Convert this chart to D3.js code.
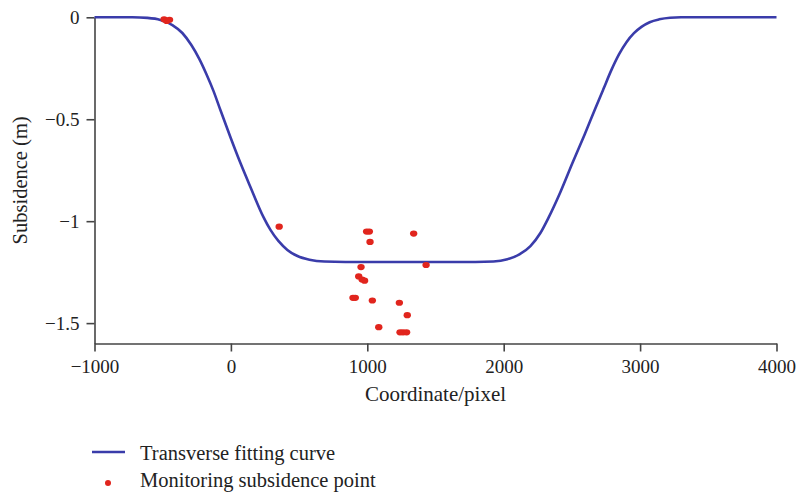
<!DOCTYPE html>
<html>
<head>
<meta charset="utf-8">
<script src="https://cdn.jsdelivr.net/npm/d3@7"></script>
<style>
  html, body { margin: 0; padding: 0; background: #fff; }
  svg { display: block; font-family: "Liberation Serif", "DejaVu Serif", serif; }
</style>
</head>
<body>
<svg id="chart" width="796" height="495"></svg>
<script>
// Fitted transverse subsidence profile (coordinate in pixels, subsidence in metres)
const curveX = [-1000, -722, -612, -517, -429, -356, -290, -231, -180, -128, -77, -4, 70, 143, 238, 290, 348, 414, 488, 576, 686, 839,
                1792, 1925, 2027, 2115, 2196, 2269, 2328, 2416, 2504, 2592, 2673, 2731, 2790, 2845, 2900, 2955, 3010, 3070, 3140, 3220, 3300, 4000];
const curveY = [0, 0, -0.003, -0.013, -0.038, -0.077, -0.136, -0.205, -0.278, -0.361, -0.455, -0.587, -0.715, -0.832, -0.979, -1.043, -1.097, -1.141, -1.171, -1.189, -1.198, -1.200,
                -1.200, -1.198, -1.187, -1.163, -1.122, -1.058, -0.984, -0.857, -0.715, -0.577, -0.445, -0.352, -0.258, -0.182, -0.122, -0.078, -0.047, -0.024, -0.010, -0.002, 0, 0];

// Measured subsidence at monitoring points
const pointX = [-490, -470, -450, 354, 995, 1015, 1020, 1340, 954, 1431, 937, 962, 980, 895, 912, 1037, 1235, 1293, 1084, 1240, 1262, 1288];
const pointY = [-0.010, -0.018, -0.012, -1.027, -1.051, -1.051, -1.102, -1.061, -1.225, -1.215, -1.271, -1.286, -1.292, -1.376, -1.376, -1.389, -1.400, -1.461, -1.520, -1.545, -1.545, -1.545];

const xTicks = [-1000, 0, 1000, 2000, 3000, 4000];
const yTicks = [0, -0.5, -1, -1.5];

const legendLabels = ["Transverse fitting curve", "Monitoring subsidence point"];

const curveColor = "#3a3caa";
const pointColor = "#e1251d";
const axisColor = "#444";

const svg = d3.select("#chart");

const x = d3.scaleLinear().domain([-1000, 4000]).range([94.5, 776.5]);
const y = d3.scaleLinear().domain([-1.6, 0]).range([343.5, 17.3]);

const fmt = v => (v < 0 ? "\u2212" : "") + Math.abs(v);

// Axes
const xAxis = svg.append("g")
  .attr("transform", `translate(0,${y(-1.6)})`)
  .call(d3.axisBottom(x).tickValues(xTicks).tickFormat(fmt).tickSize(8).tickPadding(8).tickSizeOuter(0));
const yAxis = svg.append("g")
  .attr("transform", `translate(${x(-1000)},0)`)
  .call(d3.axisLeft(y).tickValues(yTicks).tickFormat(fmt).tickSize(8).tickPadding(7).tickSizeOuter(0));

[xAxis, yAxis].forEach(g => {
  g.select(".domain").attr("stroke", axisColor).attr("stroke-width", 1.6);
  g.selectAll(".tick line").attr("stroke", axisColor).attr("stroke-width", 1.6);
  g.selectAll(".tick text").attr("fill", "#222").style("font-size", "19px")
    .style("font-family", "'Liberation Serif', serif");
});

// Axis titles
svg.append("text")
  .attr("x", (x(-1000) + x(4000)) / 2).attr("y", 401)
  .attr("text-anchor", "middle").attr("fill", "#222").style("font-size", "21px")
  .text("Coordinate/pixel");
svg.append("text")
  .attr("transform", `translate(27,${(y(0) + y(-1.6)) / 2}) rotate(-90)`)
  .attr("text-anchor", "middle").attr("fill", "#222").style("font-size", "20.5px")
  .text("Subsidence (m)");

// Fitted curve
const curveData = curveX.map((v, i) => [v, curveY[i]]);
svg.append("path")
  .datum(curveData)
  .attr("fill", "none")
  .attr("stroke", curveColor)
  .attr("stroke-width", 2.6)
  .attr("d", d3.line().x(d => x(d[0])).y(d => y(d[1])).curve(d3.curveMonotoneX));

// Monitoring points
svg.append("g").selectAll("ellipse")
  .data(pointX.map((v, i) => [v, pointY[i]]))
  .join("ellipse")
  .attr("cx", d => x(d[0])).attr("cy", d => y(d[1]))
  .attr("rx", 3.7).attr("ry", 3.1)
  .attr("fill", pointColor);

// Legend
const legend = svg.append("g");
legend.append("line")
  .attr("x1", 92).attr("x2", 125).attr("y1", 452).attr("y2", 452)
  .attr("stroke", curveColor).attr("stroke-width", 2.6);
legend.append("circle")
  .attr("cx", 108).attr("cy", 483).attr("r", 3)
  .attr("fill", pointColor);
legend.selectAll("text")
  .data(legendLabels)
  .join("text")
  .attr("x", 140).attr("y", (d, i) => 460 + i * 27)
  .attr("fill", "#222").style("font-size", "20.5px")
  .text(d => d);
</script>
</body>
</html>
